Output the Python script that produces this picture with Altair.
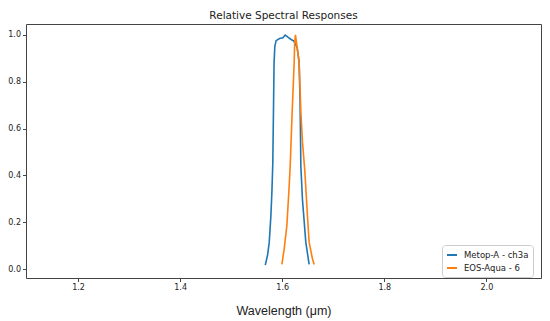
import altair as alt
import pandas as pd

# Metop-A ch3a relative spectral response
metop_w = [1.5668, 1.5713, 1.5746, 1.5778, 1.5798, 1.5815, 1.5830, 1.5840, 1.5855, 1.5880,
           1.5947, 1.6013, 1.6058, 1.6111, 1.6175, 1.6228, 1.6293, 1.6331, 1.6350, 1.6365,
           1.6396, 1.6462, 1.6527]
metop_v = [0.017, 0.060, 0.115, 0.228, 0.330, 0.450, 0.700, 0.880, 0.950, 0.975,
           0.984, 0.987, 0.999, 0.990, 0.980, 0.973, 0.945, 0.882, 0.713, 0.439,
           0.298, 0.115, 0.020]

# EOS-Aqua band 6 relative spectral response
aqua_w = [1.5994, 1.6039, 1.6091, 1.6136, 1.6156, 1.6195, 1.6234, 1.6244, 1.6259, 1.6293,
          1.6331, 1.6365, 1.6396, 1.6443, 1.6494, 1.6527, 1.6591, 1.6625]
aqua_v = [0.020, 0.087, 0.186, 0.354, 0.439, 0.671, 0.882, 0.966, 1.000, 0.945,
          0.882, 0.671, 0.544, 0.418, 0.228, 0.115, 0.045, 0.020]

series = ["Metop-A - ch3a", "EOS-Aqua - 6"]
colors = ["#1f77b4", "#ff7f0e"]
x_ticks = [1.2, 1.4, 1.6, 1.8, 2.0]
y_ticks = [0.0, 0.2, 0.4, 0.6, 0.8, 1.0]

rows = []
for i, (w, v) in enumerate(zip(metop_w, metop_v)):
    rows.append({"series": series[0], "w": w, "v": v, "o": i})
for i, (w, v) in enumerate(zip(aqua_w, aqua_v)):
    rows.append({"series": series[1], "w": w, "v": v, "o": i})
df = pd.DataFrame(rows)

chart = alt.Chart(df).mark_line(strokeWidth=1.6).encode(
    x=alt.X("w:Q", scale=alt.Scale(domain=[1.098, 2.107], nice=False, zero=False),
            axis=alt.Axis(values=x_ticks, format=".1f", title="Wavelength  (\u03bcm)",
                          titleFont="Liberation Sans", titleFontSize=12.5, titleFontWeight="normal",
                          titleColor="#222", titlePadding=13)),
    y=alt.Y("v:Q", scale=alt.Scale(domain=[-0.038, 1.046], nice=False, zero=False),
            axis=alt.Axis(values=y_ticks, format=".1f", title=None)),
    color=alt.Color("series:N", scale=alt.Scale(domain=series, range=colors),
                    legend=alt.Legend(title=None, orient="none", legendX=416, legendY=221,
                                      symbolType="stroke", symbolStrokeWidth=2, symbolSize=100,
                                      labelFontSize=8.5, labelFont="DejaVu Sans", labelColor="#222",
                                      strokeColor="#cccccc", fillColor="white", padding=4,
                                      cornerRadius=3, rowPadding=2, labelOffset=6)),
    order="o:Q",
).properties(
    width=515, height=254,
    title=alt.TitleParams("Relative Spectral Responses", font="DejaVu Sans", fontSize=10.5,
                          fontWeight="normal", color="#222", offset=3, anchor="middle"),
    autosize=alt.AutoSizeParams(type="none"),
    padding={"left": 18, "top": 16, "right": 1, "bottom": 40},
).configure_axis(
    grid=False, domain=False, tickColor="#444", tickSize=3.5, labelFont="DejaVu Sans",
    labelFontSize=8, labelColor="#222", labelPadding=2,
).configure_view(stroke="#444", strokeWidth=1)

chart.save("out.html", embed_options={"renderer": "svg", "actions": False})
